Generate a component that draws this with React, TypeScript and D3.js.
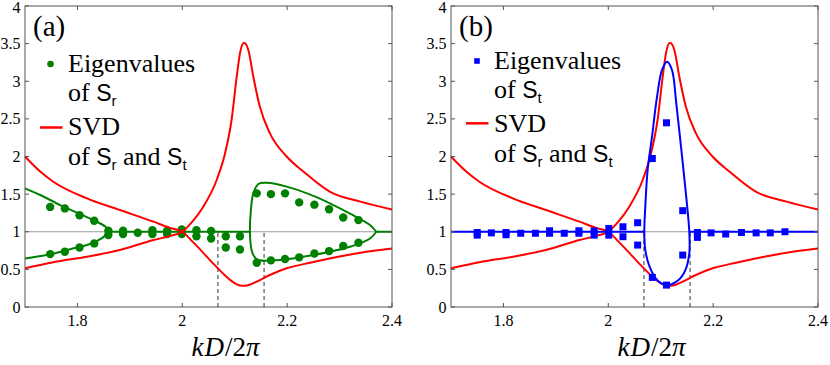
import React from 'react';
import * as d3 from 'd3';

// ---------- data ----------
const xTicks = [1.8, 2, 2.2, 2.4];
const xTickLabels = ['1.8', '2', '2.2', '2.4'];
const yTicks = [0, 0.5, 1, 1.5, 2, 2.5, 3, 3.5, 4];
const yTickLabels = ['0', '0.5', '1', '1.5', '2', '2.5', '3', '3.5', '4'];

// SVD of Sr and St: branch starting high on the left and dipping to the minimum
const svdDownX = [1.7, 1.729, 1.754, 1.818, 1.881, 1.945, 1.977, 2.0, 2.02, 2.04, 2.06, 2.08, 2.097, 2.108, 2.118, 2.13, 2.142, 2.167, 2.199, 2.244, 2.288, 2.34, 2.4];
const svdDownY = [2.0, 1.8, 1.665, 1.444, 1.289, 1.134, 1.05, 1.0, 0.865, 0.72, 0.57, 0.43, 0.33, 0.29, 0.283, 0.3, 0.337, 0.425, 0.514, 0.589, 0.655, 0.72, 0.776];
// branch starting low on the left and rising to the peak
const svdUpX = [1.7, 1.754, 1.818, 1.881, 1.945, 1.977, 2.0, 2.02, 2.04, 2.0656, 2.0815, 2.094, 2.1038, 2.11, 2.1177, 2.126, 2.1355, 2.148, 2.167, 2.199, 2.231, 2.282, 2.34, 2.4];
const svdUpY = [0.514, 0.594, 0.668, 0.757, 0.89, 0.945, 1.0, 1.14, 1.333, 1.688, 2.04, 2.485, 3.06, 3.37, 3.51, 3.415, 3.06, 2.66, 2.31, 2.0, 1.8, 1.53, 1.4, 1.295];

// Eigenvalues of Sr (panel a, dots)
const eigRX = [1.748, 1.776, 1.804, 1.832, 1.859, 1.887, 1.915, 1.943, 1.971, 1.999, 2.027, 2.055, 2.083, 2.110, 2.142, 2.169, 2.196, 2.223, 2.252, 2.280, 2.307, 2.336];
const eigRA = [1.33, 1.31, 1.22, 1.146, 1.013, 1.013, 0.987, 1.02, 1.013, 1.03, 1.02, 1.01, 0.94, 0.94, 1.51, 1.50, 1.51, 1.39, 1.36, 1.30, 1.19, 1.155];
const eigRB = [0.703, 0.734, 0.79, 0.845, 0.956, 0.97, null, 0.97, 0.97, 0.97, 0.94, 0.91, 0.79, 0.765, 0.588, 0.62, 0.637, 0.66, 0.71, 0.743, 0.81, 0.854];

// Eigenvalues of St (panel b, squares)
const eigTX = [1.750, 1.777, 1.805, 1.833, 1.861, 1.888, 1.916, 1.944, 1.973, 2.001, 2.028, 2.056, 2.084, 2.111, 2.142, 2.170, 2.196, 2.224, 2.254, 2.282, 2.309, 2.337];
const eigTA = [0.99, 0.985, 0.99, 0.98, 0.98, 1.013, 0.98, 1.013, 1.01, 1.044, 1.066, 1.12, 1.973, 2.448, 1.28, 0.99, 0.985, 0.97, 0.99, 0.985, 0.985, 1.0];
const eigTB = [0.955, null, 0.96, null, null, 0.98, null, 0.98, 0.955, 0.955, 0.934, 0.823, 0.393, 0.291, 0.69, 0.925, null, null, null, null, null, null];

// Green curves (panel a)
const greenLeftX = [1.7, 1.729, 1.767, 1.805, 1.837, 1.855, 1.859, 1.846, 1.824, 1.786, 1.741, 1.7];
const greenLeftY = [1.577, 1.488, 1.355, 1.236, 1.133, 1.058, 1.0, 0.912, 0.837, 0.767, 0.69, 0.646];
const greenRightX = [2.37, 2.358, 2.32, 2.256, 2.199, 2.161, 2.1451, 2.1355, 2.131, 2.129, 2.131, 2.134, 2.142, 2.161, 2.199, 2.25, 2.32, 2.358, 2.37];
const greenRightY = [1.0, 1.09, 1.24, 1.46, 1.60, 1.65, 1.635, 1.51, 1.3, 1.0, 0.8, 0.714, 0.634, 0.615, 0.634, 0.69, 0.80, 0.91, 1.0];
const greenFlatStart = [1.859, 2.37];
const greenFlatEnd = [2.129, 2.4];

// Blue curves (panel b)
const blueLoopX = [2.0687, 2.0706, 2.075, 2.0834, 2.093, 2.1025, 2.112, 2.1215, 2.1297, 2.1387, 2.148, 2.1545, 2.1545, 2.147, 2.134, 2.112, 2.093, 2.0788, 2.0706];
const blueLoopY = [1.0, 1.333, 1.82, 2.263, 2.795, 3.15, 3.26, 3.15, 2.707, 2.13, 1.51, 1.0, 0.714, 0.49, 0.359, 0.292, 0.359, 0.536, 0.757];
const blueFlatStart = [1.7, 2.1545];
const blueFlatEnd = [2.0687, 2.4];

const dashX = [2.068, 2.156];

// ---------- styling ----------
const W = 830;
const H = 365;
const TOP = 6;
const BOTTOM = 307;
const PW = 367;
const GREEN = '#008000';
const RED = '#ff0000';
const BLUE = '#0000ff';
const SERIF = "'Liberation Serif', 'DejaVu Serif', 'Times New Roman', serif";
const SANS = "'Liberation Sans', 'DejaVu Sans', sans-serif";

type PanelProps = { left: number; kind: 'a' | 'b' };

function zip(xs: number[], ys: number[]): [number, number][] {
  return xs.map((x, i) => [x, ys[i]] as [number, number]);
}

const serifStyle = { fontFamily: SERIF };
const sansStyle = { fontFamily: SANS };

function Panel({ left, kind }: PanelProps) {
  const x = d3.scaleLinear().domain([1.7, 2.4]).range([left, left + PW]);
  const y = d3.scaleLinear().domain([0, 4]).range([BOTTOM, TOP]);

  const fnLine = d3.line<[number, number]>().x(d => x(d[0])).y(d => y(d[1])).curve(d3.curveMonotoneX);
  const loopLine = d3.line<[number, number]>().x(d => x(d[0])).y(d => y(d[1])).curve(d3.curveCatmullRom.alpha(0.5));
  const closedLine = d3.line<[number, number]>().x(d => x(d[0])).y(d => y(d[1])).curve(d3.curveCatmullRomClosed.alpha(0.5));

  const axisColor = '#555';
  const tickLen = 4;

  const redPaths = (
    <g>
      <path d={fnLine(zip(svdDownX, svdDownY)) || ''} fill="none" stroke={RED} strokeWidth={2} />
      <path d={fnLine(zip(svdUpX, svdUpY)) || ''} fill="none" stroke={RED} strokeWidth={2} />
    </g>
  );

  const dy = kind === 'a' ? 0 : -3;
  const lx = left + 43;

  return (
    <g>
      {/* reference line at 1 */}
      <line x1={x(1.7)} x2={x(2.4)} y1={y(1)} y2={y(1)} stroke="#9a9a9a" strokeWidth={1.2} />
      {/* dashed verticals */}
      {dashX.map((d, i) => (
        <line key={'dash' + i} x1={x(d)} x2={x(d)} y1={y(0)} y2={y(1)} stroke="#333" strokeWidth={1} strokeDasharray="4,3" />
      ))}

      {kind === 'a' && (
        <g>
          {greenFlatStart.map((s, i) => (
            <line key={'gf' + i} x1={x(s)} x2={x(greenFlatEnd[i])} y1={y(1)} y2={y(1)} stroke={GREEN} strokeWidth={2} />
          ))}
          <path d={loopLine(zip(greenLeftX, greenLeftY)) || ''} fill="none" stroke={GREEN} strokeWidth={2} />
          <path d={loopLine(zip(greenRightX, greenRightY)) || ''} fill="none" stroke={GREEN} strokeWidth={2} />
          {eigRX.map((v, i) => (
            <g key={'gd' + i}>
              <circle cx={x(v)} cy={y(eigRA[i])} r={4.2} fill={GREEN} />
              {eigRB[i] !== null && <circle cx={x(v)} cy={y(eigRB[i] as number)} r={4.2} fill={GREEN} />}
            </g>
          ))}
          {redPaths}
        </g>
      )}

      {kind === 'b' && (
        <g>
          {redPaths}
          {blueFlatStart.map((s, i) => (
            <line key={'bf' + i} x1={x(s)} x2={x(blueFlatEnd[i])} y1={y(1)} y2={y(1)} stroke={BLUE} strokeWidth={2} />
          ))}
          <path d={closedLine(zip(blueLoopX, blueLoopY)) || ''} fill="none" stroke={BLUE} strokeWidth={2} />
          {eigTX.map((v, i) => (
            <g key={'bs' + i}>
              <rect x={x(v) - 3.5} y={y(eigTA[i]) - 3.5} width={7} height={7} fill={BLUE} />
              {eigTB[i] !== null && <rect x={x(v) - 3.5} y={y(eigTB[i] as number) - 3.5} width={7} height={7} fill={BLUE} />}
            </g>
          ))}
        </g>
      )}

      {/* axes box */}
      <rect x={x(1.7)} y={y(4)} width={PW} height={BOTTOM - TOP} fill="none" stroke={axisColor} strokeWidth={1} />
      {xTicks.map((t, i) => (
        <g key={'xt' + i}>
          <line x1={x(t)} x2={x(t)} y1={y(0)} y2={y(0) - tickLen} stroke={axisColor} />
          <line x1={x(t)} x2={x(t)} y1={y(4)} y2={y(4) + tickLen} stroke={axisColor} />
          <text x={x(t)} y={326} textAnchor="middle" style={serifStyle} fontSize={16} fill="#000">{xTickLabels[i]}</text>
        </g>
      ))}
      {yTicks.map((t, i) => (
        <g key={'yt' + i}>
          <line x1={x(1.7)} x2={x(1.7) + tickLen} y1={y(t)} y2={y(t)} stroke={axisColor} />
          <line x1={x(2.4)} x2={x(2.4) - tickLen} y1={y(t)} y2={y(t)} stroke={axisColor} />
          <text x={x(1.7) - 4.5} y={y(t) + 5.5 + (t === 4 ? 1 : 0)} textAnchor="end" style={serifStyle} fontSize={16} fill="#000">{yTickLabels[i]}</text>
        </g>
      ))}

      {/* x-axis label */}
      <text x={left + PW / 2 + 17} y={356} textAnchor="middle" style={serifStyle} fontSize={27} fill="#000">
        <tspan fontStyle="italic">k</tspan>
        <tspan fontStyle="italic" dx={1}>D</tspan>
        <tspan dx={1}>/2</tspan>
        <tspan fontStyle="italic">π</tspan>
      </text>

      {/* legend */}
      <text x={left + 8} y={36} style={serifStyle} fontSize={29} fill="#000">({kind})</text>
      {kind === 'a' ? (
        <circle cx={left + 25.5} cy={64 + dy} r={3.3} fill={GREEN} />
      ) : (
        <rect x={left + 26 - 2.8} y={61 - 2.8} width={5.6} height={5.6} fill={BLUE} />
      )}
      <text x={lx} y={72 + dy} style={serifStyle} fontSize={26} fill="#000">Eigenvalues</text>
      <text x={lx} y={101 + dy} style={serifStyle} fontSize={26} fill="#000">
        <tspan>of </tspan>
        <tspan style={sansStyle} fontSize={23}>S</tspan>
        <tspan style={sansStyle} fontSize={15} dy={5}>{kind === 'a' ? 'r' : 't'}</tspan>
      </text>
      <line x1={left + 15} x2={left + 37.5} y1={127.5 + dy * 1.4} y2={127.5 + dy * 1.4} stroke={RED} strokeWidth={2.5} />
      <text x={lx} y={135 + dy} style={serifStyle} fontSize={26} fill="#000">SVD</text>
      <text x={lx} y={165 + dy} style={serifStyle} fontSize={26} fill="#000">
        <tspan>of </tspan>
        <tspan style={sansStyle} fontSize={23}>S</tspan>
        <tspan style={sansStyle} fontSize={15} dy={5}>r</tspan>
        <tspan dy={-5}> and </tspan>
        <tspan style={sansStyle} fontSize={23}>S</tspan>
        <tspan style={sansStyle} fontSize={15} dy={5}>t</tspan>
      </text>
    </g>
  );
}

export default function App() {
  return (
    <svg width={W} height={H} viewBox={`0 0 ${W} ${H}`} style={{ position: 'absolute', left: 0, top: 0, background: '#fff' }}>
      <rect x={0} y={0} width={W} height={H} fill="#fff" />
      <Panel left={25} kind="a" />
      <Panel left={451} kind="b" />
    </svg>
  );
}
